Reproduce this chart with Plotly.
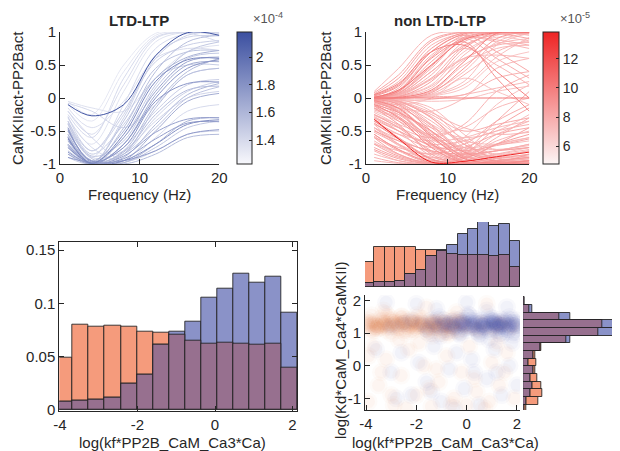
import plotly.graph_objects as go

# The page body keeps an 8 px margin, so the figure is drawn 8 px smaller and
# every reference pixel position is shifted by that offset.
W, H = 620, 451
OFF = 8
FW, FH = W - OFF, H - OFF

# ---------------- data ----------------
freq = [1, 4, 8, 12, 16, 20]

# LTD-LTP curves (CaMKIIact-PP2Bact vs frequency) and their colour level (x1e-4)
ltd_curves = [
    [-0.10, -0.27, -0.10, 0.64, 0.99, 0.95],
    [-0.55, -0.98, -0.30, 0.60, 0.95, 1.00],
    [-0.40, -0.90, -0.10, 0.75, 0.98, 0.98],
    [-0.30, -0.70, 0.10, 0.85, 1.00, 1.00],
    [-0.65, -1.00, -0.45, 0.40, 0.85, 0.95],
    [-0.20, -0.55, 0.20, 0.90, 1.00, 0.98],
    [-0.75, -1.00, -0.60, 0.20, 0.70, 0.85],
    [-0.50, -0.95, -0.50, 0.30, 0.62, 0.72],
    [-0.60, -1.00, -0.70, 0.00, 0.45, 0.58],
    [-0.70, -1.00, -0.80, -0.10, 0.40, 0.60],
    [-0.35, -0.85, -0.40, 0.30, 0.50, 0.50],
    [-0.80, -1.00, -0.85, -0.15, 0.35, 0.45],
    [-0.45, -0.97, -0.60, 0.10, 0.55, 0.62],
    [-0.60, -1.00, -0.90, -0.40, 0.05, 0.22],
    [-0.85, -0.98, -0.85, -0.45, 0.00, 0.17],
    [-0.50, -0.95, -0.85, -0.30, 0.10, 0.25],
    [-0.70, -1.00, -0.95, -0.50, -0.05, 0.07],
    [-0.40, -0.90, -0.80, -0.35, 0.00, 0.10],
    [-0.30, -0.75, -0.95, -0.60, -0.20, -0.10],
    [-0.55, -1.00, -0.98, -0.70, -0.35, -0.30],
    [-0.75, -1.00, -0.95, -0.70, -0.40, -0.33],
    [-0.90, -0.98, -0.95, -0.80, -0.55, -0.48],
    [-0.45, -0.92, -0.98, -0.75, -0.45, -0.35],
    [-0.20, -0.60, -0.95, -0.80, -0.55, -0.50],
    [-0.65, -0.95, -1.00, -0.85, -0.60, -0.55],
    [-0.10, -0.35, 0.40, 0.95, 1.00, 1.00],
    [-0.05, -0.25, 0.50, 0.98, 1.00, 0.95],
    [-0.25, -0.60, 0.30, 0.92, 0.98, 0.85],
    [-0.35, -0.80, -0.20, 0.55, 0.80, 0.87],
    [-0.60, -0.98, -0.35, 0.45, 0.70, 0.72],
    [-0.15, -0.45, -0.05, 0.60, 0.75, 0.72],
    [-0.85, -1.00, -0.70, 0.05, 0.50, 0.55],
    [-0.90, -1.00, -0.75, -0.20, 0.20, 0.28],
    [-0.05, -0.15, -0.20, 0.30, 0.70, 0.80],
    [-0.08, -0.20, -0.45, -0.10, 0.35, 0.45],
    [-0.62, -0.99, -0.55, 0.25, 0.58, 0.60],
    [-0.48, -0.96, -0.75, -0.05, 0.22, 0.24],
    [-0.72, -1.00, -0.88, -0.52, -0.32, -0.30],
    [-0.38, -0.88, -0.65, 0.15, 0.60, 0.68],
    [-0.58, -0.99, -0.82, -0.25, 0.12, 0.18],
    [-0.28, -0.80, -0.25, 0.65, 0.92, 0.94],
    [-0.82, -1.00, -0.92, -0.62, -0.38, -0.36],
]
ltd_level = [
    2.15, 1.45, 1.40, 1.35, 1.55, 1.38, 1.50, 1.62,
    1.78, 1.58, 1.48, 1.55, 1.70, 1.58, 1.52, 1.45,
    1.65, 1.43, 1.40, 1.60, 1.82, 1.75, 1.50, 1.42,
    1.57, 1.33, 1.32, 1.40, 1.46, 1.53, 1.38, 1.66,
    1.47, 1.36, 1.41, 1.86, 1.78, 1.72, 1.50, 1.56,
    1.44, 1.74,
]

# non LTD-LTP curves and their colour level (x1e-5)
non_curves = [
    [-0.32, -0.62, -0.97, -0.96, -0.89, -0.82],
    [0.02, 0.10, 0.55, 0.92, 1.00, 1.00],
    [0.00, 0.05, 0.35, 0.85, 0.98, 1.00],
    [0.00, 0.02, 0.15, 0.65, 0.95, 1.00],
    [-0.02, 0.00, 0.08, 0.45, 0.90, 1.00],
    [0.00, 0.00, 0.05, 0.25, 0.80, 0.98],
    [0.05, 0.25, 0.80, 0.98, 1.00, 0.95],
    [0.08, 0.35, 0.88, 1.00, 0.98, 0.90],
    [0.00, 0.03, 0.20, 0.70, 0.92, 0.85],
    [-0.03, -0.02, 0.10, 0.50, 0.75, 0.80],
    [0.00, 0.01, 0.12, 0.55, 0.98, 1.00],
    [0.02, 0.08, 0.45, 0.90, 0.88, 0.80],
    [0.00, 0.02, 0.25, 0.75, 1.00, 1.00],
    [0.00, 0.00, 0.03, 0.15, 0.55, 0.70],
    [0.00, 0.04, 0.30, 0.60, 0.65, 0.60],
    [0.10, 0.45, 0.95, 1.00, 1.00, 1.00],
    [0.03, 0.18, 0.70, 0.97, 1.00, 1.00],
    [0.00, 0.06, 0.40, 0.80, 0.96, 0.98],
    [0.00, 0.00, 0.00, 0.00, 0.00, 0.00],
    [-0.02, -0.03, -0.02, 0.05, 0.15, 0.25],
    [0.00, -0.02, -0.05, -0.02, 0.10, 0.18],
    [0.00, 0.00, 0.02, 0.05, 0.30, 0.40],
    [-0.02, -0.10, -0.50, -0.90, -1.00, -1.00],
    [-0.05, -0.20, -0.65, -0.95, -1.00, -0.98],
    [0.00, -0.05, -0.30, -0.75, -0.97, -1.00],
    [-0.10, -0.30, -0.75, -0.98, -1.00, -0.95],
    [-0.03, -0.12, -0.45, -0.80, -0.92, -0.90],
    [0.00, -0.03, -0.15, -0.55, -0.90, -1.00],
    [-0.15, -0.40, -0.85, -1.00, -0.98, -0.85],
    [-0.08, -0.25, -0.60, -0.85, -0.80, -0.70],
    [-0.05, -0.15, -0.40, -0.65, -0.70, -0.65],
    [-0.02, -0.08, -0.35, -0.70, -0.85, -0.80],
    [-0.12, -0.35, -0.70, -0.90, -0.70, -0.55],
    [-0.06, -0.20, -0.55, -0.80, -0.55, -0.35],
    [0.00, -0.05, -0.25, -0.50, -0.40, -0.30],
    [-0.04, -0.16, -0.58, -0.92, -0.99, -1.00],
    [-0.01, -0.06, -0.28, -0.62, -0.78, -0.75],
    [-0.25, -0.45, -0.80, -0.98, -1.00, -1.00],
    [-0.35, -0.60, -0.92, -1.00, -0.95, -0.90],
    [-0.45, -0.70, -0.95, -1.00, -1.00, -1.00],
    [-0.55, -0.78, -0.98, -1.00, -0.98, -0.95],
    [-0.65, -0.85, -1.00, -1.00, -1.00, -0.98],
    [-0.75, -0.90, -1.00, -0.98, -0.92, -0.85],
    [-0.85, -0.95, -1.00, -0.95, -0.85, -0.75],
    [-0.20, -0.35, -0.60, -0.75, -0.70, -0.60],
    [-0.30, -0.50, -0.70, -0.65, -0.50, -0.40],
    [-0.40, -0.55, -0.65, -0.60, -0.45, -0.35],
    [-0.60, -0.75, -0.85, -0.75, -0.55, -0.45],
    [-0.70, -0.80, -0.90, -0.85, -0.70, -0.60],
    [-0.50, -0.65, -0.80, -0.85, -0.80, -0.75],
    [-0.90, -0.98, -1.00, -1.00, -0.97, -0.92],
    [-0.15, -0.25, -0.45, -0.60, -0.50, -0.25],
    [-0.25, -0.40, -0.55, -0.45, -0.15, 0.00],
    [-0.35, -0.55, -0.75, -0.70, -0.35, -0.10],
    [0.00, 0.10, 0.60, 0.85, 0.30, -0.20],
    [0.00, 0.05, 0.40, 0.75, 0.50, 0.20],
    [0.00, 0.15, 0.70, 0.95, 0.70, 0.40],
    [-0.05, -0.10, 0.00, 0.30, 0.10, -0.10],
    [-0.80, -0.95, -1.00, -0.90, -0.60, -0.30],
    [-0.60, -0.85, -0.98, -0.85, -0.45, -0.15],
    [-0.40, -0.70, -0.95, -0.90, -0.65, -0.50],
    [-0.10, -0.22, -0.50, -0.82, -0.96, -0.99],
    [-0.18, -0.32, -0.62, -0.88, -0.95, -0.92],
    [0.01, 0.12, 0.50, 0.88, 0.99, 0.99],
    [0.00, 0.03, 0.30, 0.78, 0.97, 1.00],
    [0.01, 0.07, 0.48, 0.90, 1.00, 1.00],
    [0.00, 0.01, 0.10, 0.40, 0.85, 0.99],
    [0.00, 0.00, 0.06, 0.35, 0.70, 0.88],
    [0.04, 0.20, 0.75, 0.99, 1.00, 1.00],
    [0.02, 0.12, 0.62, 0.95, 0.99, 0.97],
    [0.00, 0.02, 0.18, 0.58, 0.82, 0.90],
    [0.00, 0.00, 0.04, 0.20, 0.62, 0.92],
    [0.06, 0.30, 0.85, 1.00, 1.00, 0.99],
    [0.00, 0.05, 0.28, 0.60, 0.80, 0.84],
    [-0.01, -0.07, -0.40, -0.85, -0.99, -1.00],
    [-0.03, -0.15, -0.55, -0.88, -0.97, -0.95],
    [0.00, -0.02, -0.20, -0.65, -0.95, -1.00],
    [-0.06, -0.22, -0.68, -0.96, -1.00, -1.00],
    [-0.02, -0.09, -0.42, -0.78, -0.88, -0.86],
    [-0.04, -0.18, -0.52, -0.75, -0.78, -0.72],
    [0.00, -0.04, -0.22, -0.45, -0.55, -0.52],
    [-0.01, -0.05, -0.30, -0.70, -0.92, -0.97],
    [-0.12, -0.28, -0.70, -0.97, -1.00, -1.00],
    [-0.22, -0.42, -0.82, -1.00, -1.00, -0.98],
    [-0.28, -0.50, -0.88, -1.00, -0.99, -0.95],
    [-0.38, -0.62, -0.93, -1.00, -1.00, -1.00],
    [-0.48, -0.72, -0.97, -1.00, -0.99, -0.97],
    [-0.58, -0.80, -0.99, -1.00, -1.00, -1.00],
    [-0.68, -0.86, -1.00, -1.00, -0.98, -0.94],
    [-0.78, -0.92, -1.00, -0.99, -0.95, -0.90],
    [-0.95, -0.99, -1.00, -1.00, -0.99, -0.97],
    [-0.16, -0.30, -0.58, -0.82, -0.90, -0.88],
    [-0.26, -0.44, -0.74, -0.90, -0.85, -0.78],
    [-0.33, -0.50, -0.72, -0.80, -0.72, -0.62],
    [-0.45, -0.62, -0.82, -0.88, -0.80, -0.70],
    [-0.52, -0.70, -0.90, -0.95, -0.88, -0.80],
    [-0.55, -0.78, -0.95, -0.80, -0.35, 0.10],
    [-0.45, -0.65, -0.85, -0.60, -0.10, 0.20],
    [-0.30, -0.45, -0.60, -0.40, 0.10, 0.35],
    [-0.70, -0.88, -0.98, -0.92, -0.70, -0.45],
    [0.00, 0.08, 0.50, 0.90, 0.60, 0.30],
    [0.00, 0.12, 0.65, 0.92, 0.85, 0.75],
    [0.05, 0.22, 0.70, 0.80, 0.40, 0.00],
    [-0.08, -0.15, -0.20, 0.00, 0.45, 0.60],
    [0.00, 0.00, -0.02, 0.00, 0.05, 0.00],
    [0.02, 0.04, 0.05, 0.10, 0.30, 0.50],
]
non_level = [
    13.8, 7.0, 6.5, 6.0, 7.5, 5.8, 6.2, 6.8, 5.6, 6.0,
    8.5, 6.3, 7.2, 5.5, 5.9, 6.1, 7.8, 6.6, 8.8, 6.0,
    5.7, 6.4, 7.4, 6.9, 6.2, 8.0, 6.7, 6.0, 7.1, 6.5,
    5.8, 6.3, 7.0, 6.1, 6.6, 8.2, 5.9, 6.8, 7.3, 6.4,
    7.6, 6.2, 6.9, 6.0, 5.7, 6.3, 5.9, 6.6, 6.1, 7.2,
    6.4, 5.8, 6.0, 6.5, 7.9, 6.2, 6.7, 5.6, 6.3, 6.9,
    6.0, 7.7, 6.5, 9.0, 6.4, 7.1, 5.9, 6.2, 7.4, 6.8,
    6.0, 5.8, 7.0, 6.3, 6.6, 7.2, 6.1, 7.5, 6.4, 5.9,
    6.2, 6.9, 7.3, 6.0, 6.5, 7.8, 6.3, 6.7, 5.8, 7.1,
    6.0, 6.4, 6.2, 6.8, 6.1, 5.9, 6.6, 5.7, 6.3, 7.0,
    6.5, 6.2, 8.4, 6.0,
]

# histogram of log(kf*PP2B_CaM_Ca3*Ca): bin centres and probabilities
kf_centers = [-3.880, -3.466, -3.052, -2.638, -2.224, -1.810, -1.396, -0.982,
              -0.568, -0.154, 0.260, 0.674, 1.088, 1.502, 1.916]
kf_bin_width = 0.414
kf_ltd = [0.0078, 0.0088, 0.0094, 0.0116, 0.0250, 0.0334, 0.0610, 0.0738,
          0.0830, 0.1050, 0.1140, 0.1280, 0.1197, 0.1250, 0.0916]
kf_non = [0.0490, 0.0797, 0.0780, 0.0790, 0.0780, 0.0738, 0.0725, 0.0703,
          0.0650, 0.0625, 0.0634, 0.0620, 0.0616, 0.0620, 0.0400]

# histogram of log(Kd*CaM_Ca4*CaMKII)
kd_centers = [1.987, 1.752, 1.516, 1.281, 1.045, 0.810, 0.574, 0.339,
              0.103, -0.132, -0.368, -0.603, -0.839, -1.074, -1.310]
kd_bin_width = 0.2355
kd_ltd = [0.003, 0.026, 0.130, 0.266, 0.252, 0.131, 0.048, 0.029,
          0.014, 0.028, 0.019, 0.025, 0.019, 0.009, 0.003]
kd_non = [0.003, 0.016, 0.100, 0.220, 0.208, 0.119, 0.049, 0.032,
          0.035, 0.032, 0.039, 0.049, 0.053, 0.042, 0.009]

# scatter points: (log kf, log Kd)
non_x = [-3.9, -3.7, -3.5, -3.3, -3.1, -2.9, -2.7, -2.5, -2.3, -2.1, -1.9, -1.7, -1.5, -1.3,
         -1.1, -0.9, -0.7, -0.5, -0.3, -0.1, -3.8, -3.4, -3.0, -2.6, -2.2, -1.8, -1.4, -1.0,
         -0.6, -3.95, -3.6, -3.2, -2.8, -2.4, -2.0, -1.6, -1.2, -0.8, 0.2, 0.6, 1.0, 1.4, 1.8,
         -3.9, -3.5, -3.2, -2.9, -2.6, -2.3, -2.0, -1.7, -1.4, -1.1, -0.8, -0.5, -0.2, 0.1,
         0.4, 0.7, 1.0, 1.3, 1.6, 1.9, -3.7, -3.0, -2.4, -1.9, -1.2, -0.6, 0.3, 0.9, 1.5,
         -3.4, -2.7, -1.5, 1.2, -3.9, 0.0, -3.3, -1.6, -0.4, 0.8,
         -3.75, -3.15, -2.55, -1.95, -1.35, -3.45, -2.85, -2.25,
         -3.85, -3.55, -3.25, -2.95, -2.65, -2.35, -2.05, -1.75, -1.45, -1.15, -0.85, -0.55,
         -0.25, -3.65, -3.05, -2.45, -1.85, -1.25, -0.65, -3.35, -2.75, -2.15, -1.55, -0.95, -0.35,
         -3.92, -3.62, -3.32, -3.02, -2.72, -2.42, -2.12, -1.82, -1.52, -1.22, -0.92, -0.62,
         -3.78, -3.18, -2.58, -1.98, -1.38, -0.78, -0.15, 0.45, 1.25]
non_y = [1.25, 1.35, 1.15, 1.30, 1.20, 1.40, 1.10, 1.30, 1.22, 1.38, 1.15, 1.28, 1.35, 1.10,
         1.25, 1.40, 1.18, 1.30, 1.05, 1.22, 1.05, 1.45, 1.00, 1.50, 1.05, 1.45, 1.20, 1.00,
         1.45, 1.40, 1.20, 1.10, 1.28, 1.15, 1.30, 1.05, 1.40, 1.30, 1.20, 1.30, 1.15, 1.30, 1.20,
         -1.10, -0.60, 0.20, -1.20, -0.30, 0.50, -0.90, 0.00, -1.25, -0.50, 0.30, -1.00, -0.20, 0.60,
         -0.80, -1.30, 0.10, -0.60, 0.40, -1.00, 0.60, -0.90, -1.30, 0.70, -0.10, -1.20, -0.40, -1.10, -0.20,
         -0.20, 0.80, -0.70, 0.70, 0.30, -1.20, 1.70, 1.80, 1.65, 1.90,
         1.32, 1.26, 1.36, 1.24, 1.30, 1.18, 1.34, 1.27,
         1.18, 1.28, 1.38, 1.22, 1.32, 1.42, 1.12, 1.22, 1.32, 1.18, 1.22, 1.16,
         1.32, 1.08, 1.48, 1.02, 1.36, 1.30, 1.02, 1.24, 1.18, 1.24, 1.12, 1.12, 1.40,
         1.30, 1.22, 1.28, 1.34, 1.24, 1.30, 1.36, 1.26, 1.20, 1.34, 1.28, 1.24,
         1.55, 1.58, 1.52, 1.56, 0.92, 0.95, 1.30, 1.10, 1.25]

ltd_x = [-1.8, -1.6, -1.4, -1.2, -1.0, -0.8, -0.6, -0.4, -0.2, 0.0, 0.2, 0.4, 0.6, 0.8, 1.0,
         1.2, 1.4, 1.6, 1.8, 2.0, -1.5, -1.1, -0.7, -0.3, 0.1, 0.5, 0.9, 1.3, 1.7, 1.95,
         -0.9, -0.5, -0.1, 0.3, 0.7, 1.1, 1.5, 1.9, 0.0, 0.6, 1.2, 1.6, -2.5, -3.0, -2.2,
         0.4, 1.0, 1.4, 0.8, 1.3, 0.2, -0.2, 1.75, 1.05,
         -1.2, 0.0, 0.8, 1.6, -3.2, -2.0,
         -3.0, -2.6, -2.2, -1.9, -1.6, -1.3, -1.0, -0.7, -0.4, -0.1, 0.2, 0.5, 0.8, 1.1,
         1.4, 1.7, 2.0, -2.8, -1.4, 0.3, 1.2, 1.8, -0.5, 0.9, -3.6,
         -0.95, -0.65, -0.35, -0.05, 0.25, 0.55, 0.85, 1.15, 1.45, 1.75, 2.05, -0.15, 0.45,
         1.05, 1.65, 0.15, 0.75, 1.35, 1.95, -0.45, 0.95, 1.55, 0.35, 1.25, -1.3,
         -0.82, -0.52, -0.22, 0.08, 0.38, 0.68, 0.98, 1.28, 1.58, 1.88, 0.62, 1.12,
         -1.05, -0.25, 0.52, 1.38, 1.85, 0.05]
ltd_y = [1.30, 1.15, 1.40, 1.20, 1.30, 1.05, 1.35, 1.20, 1.45, 1.10, 1.30, 1.15, 1.40, 1.25, 1.35,
         1.10, 1.30, 1.20, 1.40, 1.25, 1.00, 1.50, 1.25, 1.00, 1.55, 1.00, 1.50, 1.00, 1.50, 1.05,
         1.40, 1.10, 1.30, 1.45, 1.20, 1.25, 1.40, 1.30, 1.25, 1.30, 1.35, 1.05, 1.30, 1.20, 1.40,
         1.35, 1.20, 1.15, 1.32, 1.22, 1.18, 1.28, 1.24, 1.38,
         1.75, 1.95, 1.70, 1.80, 1.95, 1.90,
         -0.20, 0.40, -0.90, 0.10, -0.50, 0.60, -1.10, -0.10, 0.40, -0.70, 0.20, -1.20, -0.40, 0.50,
         -0.90, 0.00, -0.60, -1.00, -0.80, -0.20, -0.20, 0.70, -1.30, 0.80, 0.50,
         1.20, 1.30, 1.25, 1.38, 1.20, 1.25, 1.35, 1.30, 1.22, 1.32, 1.18, 1.15, 1.05,
         1.45, 1.12, 1.38, 1.10, 1.42, 1.40, 1.42, 1.05, 1.35, 1.28, 1.20, 1.30,
         1.28, 1.22, 1.34, 1.26, 1.30, 1.22, 1.28, 1.25, 1.30, 1.22, 1.20, 1.32,
         0.92, 0.95, 0.90, 0.93, 0.95, 1.58]

# ---------------- styling helpers ----------------
FONT = "Liberation Sans, Arial, Helvetica, sans-serif"
INK = "#262626"
BLUE_LO, BLUE_HI = (248, 248, 252), (59, 79, 160)
RED_LO, RED_HI = (252, 245, 245), (238, 36, 36)
LTD_MIN, LTD_MAX = 1.23, 2.18
NON_MIN, NON_MAX = 4.76, 13.86
ORANGE = "#F59B7C"
BLUEBAR = "#8A92C8"
PURPLE = "#97708F"
EDGE = "rgba(30,30,30,0.85)"
FS = 15


def mix(lo, hi, t):
    t = max(0.0, min(1.0, t))
    return "rgb(%d,%d,%d)" % tuple(round(a + (b - a) * t) for a, b in zip(lo, hi))


def px(x):
    return (x - OFF) / FW


def py(y):
    return 1 - (y - OFF) / FH


fig = go.Figure()

# top-left curves
for lvl, ys in sorted(zip(ltd_level, ltd_curves), key=lambda p: p[0]):
    fig.add_trace(go.Scatter(
        x=freq, y=ys, mode="lines", xaxis="x", yaxis="y",
        line=dict(shape="spline", smoothing=1.0, width=1,
                  color=mix(BLUE_LO, BLUE_HI, (lvl - LTD_MIN) / (LTD_MAX - LTD_MIN))),
        showlegend=False, hoverinfo="skip"))

fig.add_trace(go.Scatter(
    x=[None], y=[None], mode="markers", xaxis="x", yaxis="y", showlegend=False,
    marker=dict(color=[LTD_MIN], cmin=LTD_MIN, cmax=LTD_MAX,
                colorscale=[[0, mix(BLUE_LO, BLUE_HI, 0)], [1, mix(BLUE_LO, BLUE_HI, 1)]],
                showscale=True,
                colorbar=dict(x=px(237), xanchor="left", xpad=0, ypad=0,
                              y=py(98), yanchor="middle", len=132, lenmode="pixels",
                              thickness=15, thicknessmode="pixels",
                              outlinecolor=INK, outlinewidth=1,
                              ticks="inside", ticklen=3, tickcolor=INK,
                              tickvals=[1.4, 1.6, 1.8, 2.0], ticktext=["1.4", "1.6", "1.8", "2"],
                              tickfont=dict(size=14, color=INK, family=FONT)))))

# top-right curves
for lvl, ys in sorted(zip(non_level, non_curves), key=lambda p: p[0]):
    fig.add_trace(go.Scatter(
        x=freq, y=ys, mode="lines", xaxis="x2", yaxis="y2",
        line=dict(shape="spline", smoothing=1.0, width=1,
                  color=mix(RED_LO, RED_HI, (lvl - NON_MIN) / (NON_MAX - NON_MIN) + 0.15)),
        showlegend=False, hoverinfo="skip"))

fig.add_trace(go.Scatter(
    x=[None], y=[None], mode="markers", xaxis="x2", yaxis="y2", showlegend=False,
    marker=dict(color=[NON_MIN], cmin=NON_MIN, cmax=NON_MAX,
                colorscale=[[0, mix(RED_LO, RED_HI, 0)], [1, mix(RED_LO, RED_HI, 1)]],
                showscale=True,
                colorbar=dict(x=px(543), xanchor="left", xpad=0, ypad=0,
                              y=py(98), yanchor="middle", len=132, lenmode="pixels",
                              thickness=16, thicknessmode="pixels",
                              outlinecolor=INK, outlinewidth=1,
                              ticks="inside", ticklen=3, tickcolor=INK,
                              tickvals=[6, 8, 10, 12], ticktext=["6", "8", "10", "12"],
                              tickfont=dict(size=14, color=INK, family=FONT)))))


# histogram bars helper
def add_bars(centers, a, b, width, xa, ya, horizontal=False):
    overlap = [min(p, q) for p, q in zip(a, b)]
    for vals, col in ((b, ORANGE), (a, BLUEBAR), (overlap, PURPLE)):
        common = dict(width=width, xaxis=xa, yaxis=ya,
                      marker=dict(color=col, line=dict(color=EDGE, width=1)),
                      showlegend=False, hoverinfo="skip")
        if horizontal:
            fig.add_trace(go.Bar(y=centers, x=vals, orientation="h", **common))
        else:
            fig.add_trace(go.Bar(x=centers, y=vals, **common))


add_bars(kf_centers, kf_ltd, kf_non, kf_bin_width, "x3", "y3")
add_bars(kf_centers, kf_ltd, kf_non, kf_bin_width, "x5", "y5")
add_bars(kd_centers, kd_ltd, kd_non, kd_bin_width, "x6", "y6", horizontal=True)

# scatter: soft translucent discs (layered sizes give a blurred edge)
for xs, ys, rgb in ((non_x, non_y, "236,112,62"), (ltd_x, ltd_y, "62,72,170")):
    for size, alpha in ((18, 0.032), (13, 0.04)):
        fig.add_trace(go.Scatter(x=xs, y=ys, mode="markers", xaxis="x4", yaxis="y4",
                                 marker=dict(size=size, color="rgba(%s,%s)" % (rgb, alpha),
                                             line=dict(width=0)),
                                 showlegend=False, hoverinfo="skip"))

# ---------------- layout ----------------
base = dict(showline=True, linecolor=INK, linewidth=1, ticks="inside", ticklen=5,
            tickcolor=INK, tickwidth=1, showgrid=False, zeroline=False,
            tickfont=dict(size=FS, color=INK, family=FONT))

lay = dict(
    width=FW, height=FH, margin=dict(l=0, r=0, t=0, b=0, autoexpand=False),
    paper_bgcolor="white", plot_bgcolor="rgba(0,0,0,0)",
    barmode="overlay", bargap=0, showlegend=False,
    font=dict(family=FONT, color=INK),
    xaxis=dict(base, domain=[px(60), px(219.3)], range=[0, 20], anchor="y",
               tickvals=[0, 10, 20]),
    yaxis=dict(base, domain=[py(164), py(32)], range=[-1, 1], anchor="x",
               tickvals=[-1, -0.5, 0, 0.5, 1], ticktext=["-1", "-0.5", "0", "0.5", "1"]),
    xaxis2=dict(base, domain=[px(366), px(529.3)], range=[0, 20], anchor="y2",
                tickvals=[0, 10, 20]),
    yaxis2=dict(base, domain=[py(164), py(32)], range=[-1, 1], anchor="x2",
                tickvals=[-1, -0.5, 0, 0.5, 1], ticktext=["-1", "-0.5", "0", "0.5", "1"]),
    xaxis3=dict(base, domain=[px(59.3), px(297.3)], range=[-4.018, 2.123], anchor="y3",
                mirror="ticks", tickvals=[-4, -2, 0, 2], ticktext=["-4", "-2", "0", "2"]),
    yaxis3=dict(base, domain=[py(410.7), py(241.7)], range=[-0.0007, 0.1578], anchor="x3",
                mirror="ticks", tickvals=[0, 0.05, 0.1, 0.15], ticktext=["0", "0.05", "0.1", "0.15"]),
    xaxis4=dict(base, domain=[px(365), px(520)], range=[-4.04, 2.12], anchor="y4",
                tickvals=[-4, -2, 0, 2], ticktext=["-4", "-2", "0", "2"]),
    yaxis4=dict(base, domain=[py(410), py(295)], range=[-1.36, 2.175], anchor="x4",
                tickvals=[-1, 0, 1, 2], ticktext=["-1", "0", "1", "2"]),
    xaxis5=dict(domain=[px(365), px(520)], range=[-4.04, 2.12], anchor="y5", visible=False),
    yaxis5=dict(domain=[py(286.7), py(222)], range=[0, 0.1285], anchor="x5", visible=False),
    xaxis6=dict(domain=[px(523.3), 1.0], range=[0, 0.2688], anchor="y6", visible=False),
    yaxis6=dict(domain=[py(410), py(295)], range=[-1.36, 2.175], anchor="x6", visible=False),
)

ann = []


def text(x, y, s, size=FS, bold=False, angle=0, xanchor="center", color=INK):
    ann.append(dict(x=px(x), y=py(y), xref="paper", yref="paper",
                    text=("<b>%s</b>" % s if bold else s),
                    showarrow=False, xanchor=xanchor, yanchor="middle", textangle=angle,
                    font=dict(size=size, color=color, family=FONT)))


text(139, 20, "LTD-LTP", bold=True)
text(440, 20, "non LTD-LTP", bold=True)
text(139, 194, "Frequency (Hz)")
text(447, 194, "Frequency (Hz)")
text(18, 98, "CaMKIIact-PP2Bact", angle=-90)
text(326, 98, "CaMKIIact-PP2Bact", angle=-90)
text(172, 442, "log(kf*PP2B_CaM_Ca3*Ca)")
text(445, 442, "log(kf*PP2B_CaM_Ca3*Ca)")
text(340, 350, "log(Kd*CaM_Ca4*CaMKII)", angle=-90)
text(251, 18, "×10<sup>-4</sup>", size=13, xanchor="left", color="#555555")
text(558, 18, "×10<sup>-5</sup>", size=13, xanchor="left", color="#555555")

lay["annotations"] = ann
fig.update_layout(**lay)
fig.write_html("out.html")
